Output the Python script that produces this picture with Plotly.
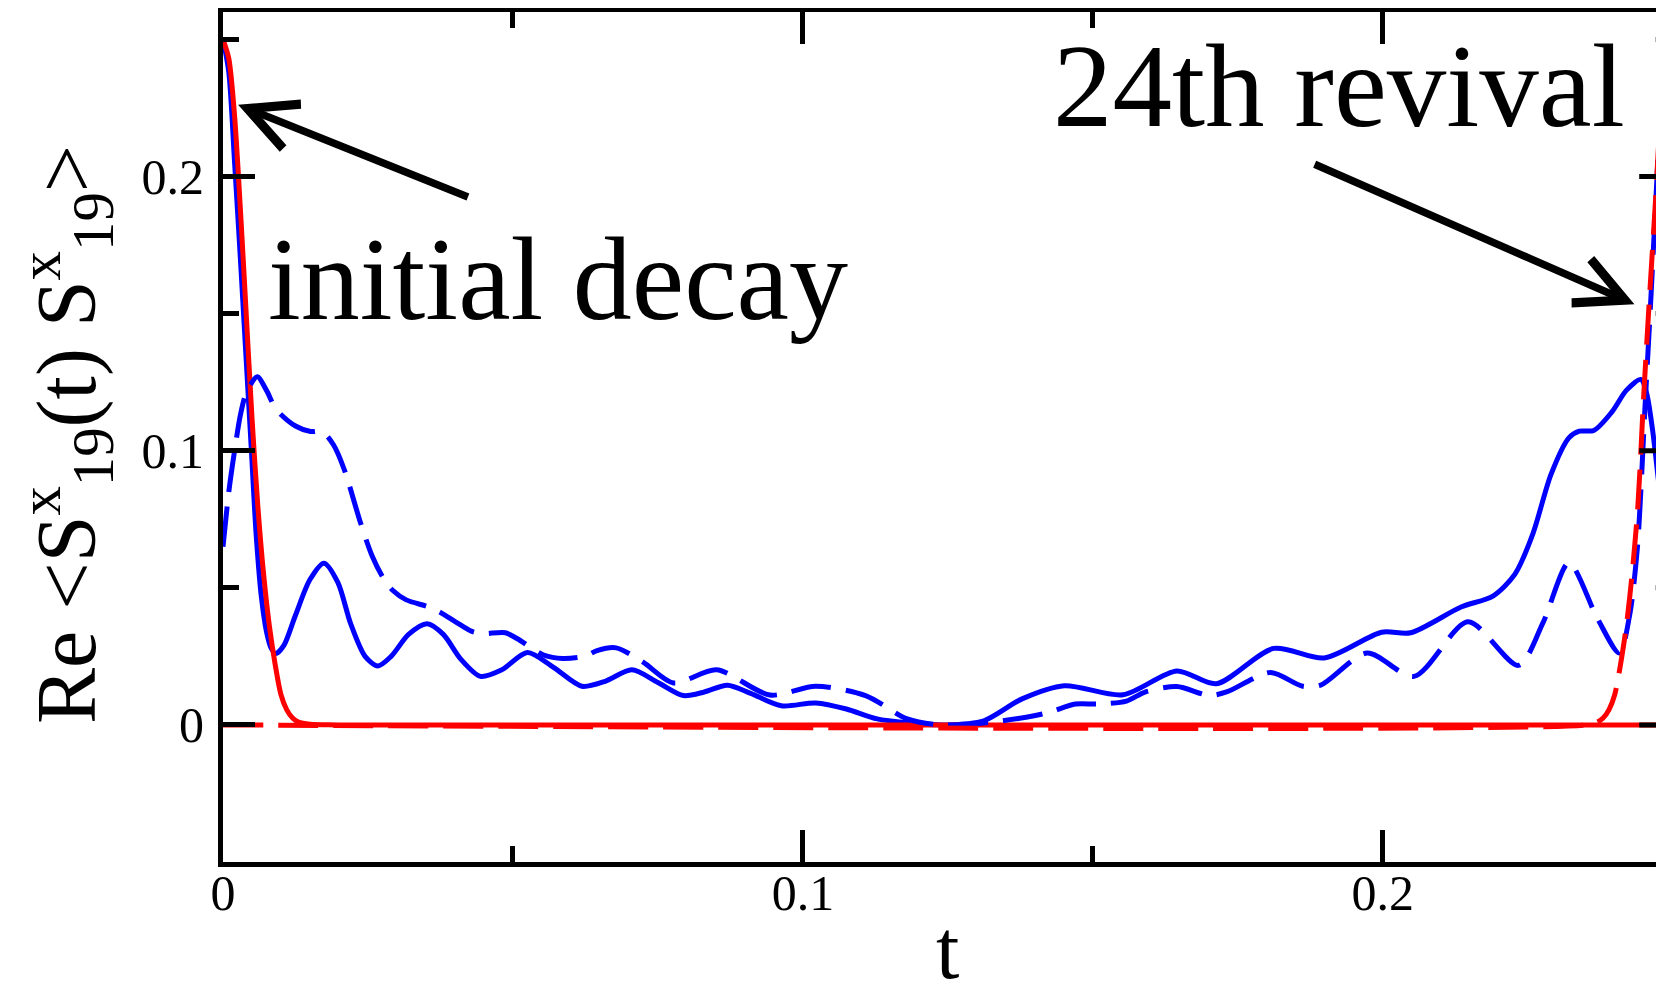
import plotly.graph_objects as go

# ---------------- data ----------------
t_blue_solid = [0, 0.001, 0.002, 0.003, 0.004, 0.0049, 0.0057, 0.0066, 0.0075, 0.0083, 0.0091,
                0.0105, 0.0125, 0.015, 0.0174, 0.0198, 0.022, 0.0245, 0.0267, 0.029, 0.032,
                0.0352, 0.038, 0.041, 0.0444, 0.048, 0.0525, 0.057, 0.0619, 0.066, 0.0705,
                0.075, 0.0794, 0.083, 0.087, 0.091, 0.0963, 0.1022, 0.1075, 0.1128, 0.1181,
                0.1246, 0.1312, 0.1378, 0.1451, 0.1552, 0.1645, 0.1713, 0.1812, 0.1899,
                0.1998, 0.2048, 0.2135, 0.2190, 0.2228, 0.2259, 0.2290, 0.2321, 0.2339,
                0.2364, 0.2395, 0.2420, 0.2445, 0.2455, 0.2465, 0.2475, 0.2485, 0.25]
v_blue_solid = [0.25, 0.238, 0.205, 0.17, 0.133, 0.1, 0.07, 0.047, 0.034, 0.028, 0.026,
                0.029, 0.040, 0.053, 0.059, 0.052, 0.037, 0.025, 0.0215, 0.025, 0.033,
                0.0369, 0.033, 0.024, 0.0177, 0.020, 0.0264, 0.021, 0.0141, 0.016, 0.0201,
                0.0155, 0.0107, 0.012, 0.0145, 0.0115, 0.0070, 0.0080, 0.0058, 0.0022, 0.0008,
                0.0, 0.0015, 0.0095, 0.0143, 0.0110, 0.0197, 0.0150, 0.0279, 0.0244,
                0.0338, 0.0336, 0.0430, 0.0470, 0.0550, 0.0698, 0.0913, 0.1047, 0.1071,
                0.1074, 0.1141, 0.1220, 0.1260, 0.121, 0.108, 0.09, 0.072, 0.063]

t_blue_dash = [0, 0.001, 0.002, 0.003, 0.004, 0.0059, 0.0075, 0.0092, 0.0125, 0.0151, 0.0171,
               0.0191, 0.021, 0.0237, 0.0257, 0.0276, 0.0293, 0.0316, 0.0355, 0.0375, 0.0401,
               0.0428, 0.0447, 0.0487, 0.0507, 0.0553, 0.0586, 0.0625, 0.0645, 0.0678, 0.0725,
               0.0777, 0.0851, 0.0943, 0.1022, 0.1108, 0.118, 0.1238, 0.1312, 0.1385, 0.1425,
               0.147, 0.151, 0.1558, 0.1589, 0.1645, 0.1701, 0.1732, 0.1806, 0.1862, 0.1893,
               0.1973, 0.2054, 0.2147, 0.2234, 0.2277, 0.2321, 0.2370, 0.2408, 0.2426, 0.2439,
               0.2445, 0.2452, 0.2461, 0.2473, 0.2481, 0.2486, 0.25]
v_blue_dash = [0.065, 0.085, 0.100, 0.113, 0.121, 0.127, 0.122, 0.115, 0.109, 0.107, 0.107,
               0.102, 0.0926, 0.0738, 0.0617, 0.0537, 0.049, 0.0456, 0.043, 0.041, 0.0376,
               0.0342, 0.0333, 0.0336, 0.0315, 0.0255, 0.0242, 0.0251, 0.0271, 0.0281, 0.0228,
               0.0153, 0.0201, 0.0109, 0.0141, 0.0107, 0.0022, 0.0, 0.0007, 0.0028, 0.0046,
               0.0076, 0.0076, 0.0087, 0.0119, 0.0140, 0.0107, 0.0121, 0.0191, 0.0141, 0.0145,
               0.0262, 0.0177, 0.0376, 0.0217, 0.0376, 0.0591, 0.0389, 0.0262, 0.0403, 0.0644,
               0.085, 0.115, 0.15, 0.2, 0.235, 0.247, 0.25]

t_red_solid = [0, 0.001, 0.002, 0.003, 0.004, 0.005, 0.006, 0.007, 0.008, 0.009, 0.010,
               0.011, 0.012, 0.013, 0.015, 0.02, 0.25]
v_red_solid = [0.25, 0.243, 0.222, 0.188, 0.15, 0.112, 0.08, 0.055, 0.036, 0.022, 0.011,
               0.0055, 0.0025, 0.001, 0.0002, 0, 0]

t_red_dash = [0, 0.235, 0.237, 0.238, 0.239, 0.240, 0.241, 0.242, 0.243, 0.244, 0.245,
              0.246, 0.247, 0.248, 0.2485, 0.25]
v_red_dash = [0, 0, 0.001, 0.0025, 0.0055, 0.011, 0.022, 0.036, 0.055, 0.08, 0.12,
              0.156, 0.19, 0.228, 0.244, 0.25]

x_range = [0, 0.2485]
y_range = [-0.05, 0.26]
t_end = 0.25
y_major_ticks = [0, 0.1, 0.2]
y_minor_ticks = [0.05, 0.15, 0.25]

# ---------------- layout geometry ----------------
# the page body adds an 8px margin, so the figure is built 8px smaller and
# every screen position is shifted by that offset
OFF = 8
W, H = 1664 - OFF, 981 - OFF
ML, MR, MT, MB = 215, 0, 4, 119
PW, PH = W - ML - MR, H - MT - MB


def px(x_screen):
    return (x_screen - OFF - ML) / PW


def py(y_screen):
    return (H - MB - (y_screen - OFF)) / PH


SERIF = "Liberation Serif"
BLUE = "#0000ff"
RED = "#ff0000"
LW = 5
AXW = 5
DASH = "40px,15px"

fig = go.Figure()
fig.add_trace(go.Scatter(x=t_blue_solid, y=v_blue_solid, mode="lines",
                         line=dict(color=BLUE, width=LW, shape="spline", smoothing=0.8)))
fig.add_trace(go.Scatter(x=t_red_solid, y=v_red_solid, mode="lines",
                         line=dict(color=RED, width=LW, shape="spline", smoothing=0.8)))
fig.add_trace(go.Scatter(x=t_blue_dash, y=v_blue_dash, mode="lines",
                         line=dict(color=BLUE, width=LW, dash=DASH, shape="spline", smoothing=0.8)))
fig.add_trace(go.Scatter(x=t_red_dash, y=v_red_dash, mode="lines",
                         line=dict(color=RED, width=LW, dash=DASH, shape="spline", smoothing=0.8)))

# right-hand y ticks (the right frame line lies just outside the cropped picture)
px_per_t = PW / (x_range[1] - x_range[0])
shapes = []
for v in y_major_ticks:
    shapes.append(dict(type="line", xref="x", yref="y", x0=t_end - 33.5 / px_per_t, x1=t_end,
                       y0=v, y1=v, line=dict(color="black", width=AXW)))
for v in y_minor_ticks:
    shapes.append(dict(type="line", xref="x", yref="y", x0=t_end - 17 / px_per_t, x1=t_end,
                       y0=v, y1=v, line=dict(color="black", width=AXW)))

annotations = [
    dict(text="initial decay", xref="paper", yref="paper", x=px(266), y=py(279),
         xanchor="left", yanchor="middle", showarrow=False,
         font=dict(family=SERIF, size=118, color="black")),
    dict(text="24th revival", xref="paper", yref="paper", x=px(1051), y=py(86),
         xanchor="left", yanchor="middle", showarrow=False,
         font=dict(family=SERIF, size=119, color="black")),
    # arrows
    dict(text="", xref="x", yref="y", x=0.0026, y=0.2262, axref="x", ayref="y",
         ax=0.0425, ay=0.1923, showarrow=True, arrowhead=5, arrowsize=1.25,
         arrowwidth=7.5, arrowcolor="black", standoff=0),
    dict(text="", xref="x", yref="y", x=0.2434, y=0.1534, axref="x", ayref="y",
         ax=0.188, ay=0.2047, showarrow=True, arrowhead=5, arrowsize=1.25,
         arrowwidth=7.5, arrowcolor="black", standoff=0),
    # axis titles
    dict(text="Re &lt;S<sup>x</sup><sub>19</sub>(t) S<sup>x</sup><sub>19</sub>&gt;",
         xref="paper", yref="paper", x=px(67), y=py(435), xanchor="center", yanchor="middle",
         textangle=-90, showarrow=False, font=dict(family=SERIF, size=84, color="black")),
    dict(text="t", xref="x", yref="paper", x=0.125, y=py(949), xanchor="center",
         yanchor="middle", showarrow=False, font=dict(family=SERIF, size=84, color="black")),
]

axis_common = dict(
    showline=True, linewidth=AXW, linecolor="black",
    ticks="inside", ticklen=32, tickwidth=AXW, tickcolor="black",
    tick0=0, dtick=0.1, showgrid=False, zeroline=False,
    tickfont=dict(family=SERIF, size=50, color="black"),
    minor=dict(ticks="inside", ticklen=16, tickwidth=AXW, tickcolor="black",
               tick0=0, dtick=0.05, showgrid=False),
)

fig.update_layout(
    width=W, height=H,
    margin=dict(l=ML, r=MR, t=MT, b=MB, pad=0),
    paper_bgcolor="white", plot_bgcolor="white",
    showlegend=False,
    xaxis=dict(range=x_range, mirror="ticks", ticklabelstandoff=-17, **axis_common),
    yaxis=dict(range=y_range, mirror=False, ticklabelstandoff=4, **axis_common),
    shapes=shapes,
    annotations=annotations,
)

fig.write_html("out.html")
